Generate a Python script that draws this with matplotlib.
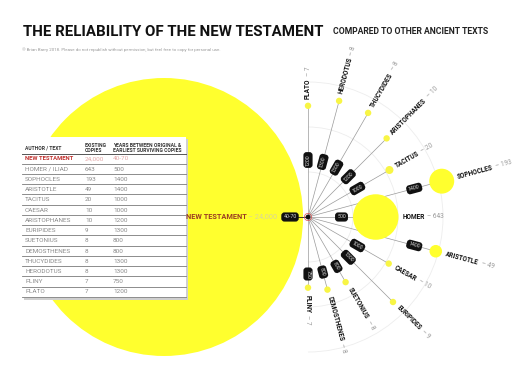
import numpy as np
import matplotlib
matplotlib.use("Agg")
import matplotlib.pyplot as plt
from matplotlib.patches import Circle, Rectangle, Arc
from matplotlib.textpath import TextPath
from matplotlib.font_manager import FontProperties, fontManager

# ---- data ----
authors = ["PLATO", "HERODOTUS", "THUCYDIDES", "ARISTOPHANES", "TACITUS", "SOPHOCLES", "HOMER",
           "ARISTOTLE", "CAESAR", "EURIPIDES", "SUETONIUS", "DEMOSTHENES", "PLINY"]
copies = [7, 8, 8, 10, 20, 193, 643, 49, 10, 9, 8, 8, 7]
years = [1200, 1300, 1300, 1200, 1000, 1400, 500, 1400, 1000, 1300, 800, 800, 750]

nt_name = "NEW TESTAMENT"
nt_copies = 24000
nt_years_label = "40-70"
nt_years_mid = 55

table_names = ["NEW TESTAMENT", "HOMER / ILIAD", "SOPHOCLES", "ARISTOTLE", "TACITUS", "CAESAR",
               "ARISTOPHANES", "EURIPIDES", "SUETONIUS", "DEMOSTHENES", "THUCYDIDES", "HERODOTUS",
               "PLINY", "PLATO"]
table_copies = ["24,000", "643", "193", "49", "20", "10", "10", "9", "8", "8", "8", "8", "7", "7"]
table_years = ["40-70", "500", "1400", "1400", "1000", "1000", "1200", "1300", "800", "800",
               "1300", "1300", "750", "1200"]

# ---- fonts ----
installed = {f.name for f in fontManager.ttflist}
COND = "DejaVu Sans"
for cand in ["Liberation Sans Narrow", "DejaVu Sans Condensed", "Roboto"]:
    if cand in installed:
        COND = cand
        break
plt.rcParams["font.family"] = [COND, "DejaVu Sans"]


def tw(s, size, weight="normal"):
    # text width in pixels (dpi 100)
    tp = TextPath((0, 0), s, size=size, prop=FontProperties(family=COND, weight=weight))
    return tp.get_extents().width * 100 / 72


def fit(s, width, weight="bold"):
    return 10 * width / tw(s, 10, weight)


YELLOW = "#ffff2e"
px_per_year = 0.09
k = 139 / np.sqrt(nt_copies)
C = np.array([308.0, 217.0])

fs_lab = fit("SOPHOCLES", 37)
fs_box = fit("1400", 11, "normal")
fs_row = fit("ARISTOPHANES", 46, "normal")
fs_nt = fit("NEW TESTAMENT", 60)

fig = plt.figure(figsize=(5.26, 3.9), dpi=100)
ax = fig.add_axes([0, 0, 1, 1])
ax.set_xlim(0, 526)
ax.set_ylim(390, 0)
ax.axis("off")

# faint grid arcs
for yr in [500, 1000, 1500]:
    dd = 2 * yr * px_per_year
    ax.add_patch(Arc(C, dd, dd, theta1=-90, theta2=90, color="#ededed", lw=0.6, zorder=0))

# big NT circle
r_nt = k * np.sqrt(nt_copies)
nt_c = C + np.array([-(r_nt + px_per_year * nt_years_mid), 0])
ax.add_patch(Circle(nt_c, r_nt, color=YELLOW, zorder=1, lw=0))

angles = np.linspace(90, -90, len(authors))
radii = np.maximum(k * np.sqrt(np.array(copies)), 3.2)
dists = radii + px_per_year * np.array(years)
units = [np.array([np.cos(np.radians(a)), -np.sin(np.radians(a))]) for a in angles]
centers = [C + d * u for d, u in zip(dists, units)]

for i, name in enumerate(authors):
    a, u, r, d, cen = angles[i], units[i], radii[i], dists[i], centers[i]
    ax.plot([C[0], cen[0]], [C[1], cen[1]], color="#9a9a9a", lw=0.5, zorder=2)
    col = YELLOW if r > 5 else "#f8f545"
    ax.add_patch(Circle(cen, r, color=col, zorder=3, lw=0))

    # name + value label beyond the circle
    p = C + (d + r + 4) * u
    ax.text(p[0], p[1], name, fontsize=fs_lab, fontweight="bold", color="#111111", rotation=a,
            rotation_mode="anchor", ha="left", va="center", zorder=6)
    q = p + (tw(name, fs_lab, "bold") + 2.5) * u
    ax.text(q[0], q[1], "– %d" % copies[i], fontsize=fs_lab, color="#9a9a9a", rotation=a,
            rotation_mode="anchor", ha="left", va="center", zorder=6)

    # years box along the spoke
    t = 57.0
    edge = d - r
    if t + 10 > edge:
        t = (edge + 22) / 2
    else:
        pushed = False
        while any(np.hypot(*(C + t * u - centers[j])) < radii[j] + 10
                  for j in range(len(authors)) if j != i):
            t += 1
            pushed = True
        if pushed:
            t = (t + edge) / 2
    b = C + t * u
    ax.text(b[0], b[1], str(years[i]), fontsize=fs_box, color="#d8d8d8", rotation=a,
            rotation_mode="anchor", ha="center", va="center", zorder=7,
            bbox=dict(boxstyle="round,pad=0.4,rounding_size=0.6", fc="#111111", ec="none"))

# NT label and box
nb = C + np.array([-18, 0])
ax.plot([nb[0], C[0]], [C[1], C[1]], color="#222222", lw=0.6, zorder=2)
ax.text(nb[0], nb[1], nt_years_label, fontsize=fs_box, color="#d8d8d8", ha="center", va="center",
        zorder=7, bbox=dict(boxstyle="round,pad=0.4,rounding_size=0.6", fc="#111111", ec="none"))
val = "– 24,000"
xr = nb[0] - 13
ax.text(xr, nb[1], val, fontsize=fs_nt, color="#d9d59a", ha="right", va="center", zorder=6)
ax.text(xr - tw(val, fs_nt) - 2.5, nb[1], nt_name, fontsize=fs_nt, fontweight="bold",
        color="#9a3b22", ha="right", va="center", zorder=6)

# center marker
ax.add_patch(Circle(C, 3.6, fill=False, ec="#d84a4a", lw=0.5, zorder=8))
ax.add_patch(Circle(C, 1.7, color="#111111", zorder=9))

# ---- table ----
tx0, tx1, ty0, ty1 = 22, 186, 137, 298
ax.add_patch(Rectangle((tx0 + 1.5, ty0 + 1.5), tx1 - tx0, ty1 - ty0, color="#cfcfcf", zorder=4, lw=0))
ax.add_patch(Rectangle((tx0, ty0), tx1 - tx0, ty1 - ty0, color="white", zorder=5, lw=0))
cols = [25, 85, 113]
hy = 148
fs_h = fit("YEARS BETWEEN ORIGINAL &", 68)
ax.text(cols[0], hy, "AUTHOR / TEXT", fontsize=fs_h, fontweight="bold", color="#333333",
        va="center", zorder=6)
ax.text(cols[1], hy, "EXISTING\nCOPIES", fontsize=fs_h, fontweight="bold", color="#333333",
        va="center", linespacing=1.0, zorder=6)
ax.text(cols[2], hy, "YEARS BETWEEN ORIGINAL &\nEARLIEST SURVIVING COPIES", fontsize=fs_h,
        fontweight="bold", color="#333333", va="center", linespacing=1.0, zorder=6)
ax.plot([tx0, tx1], [154, 154], color="#555555", lw=0.7, zorder=6)
for i, nm in enumerate(table_names):
    ry = 159 + i * 10.23
    if i == 0:
        ax.text(cols[0], ry, nm, fontsize=fs_row * 0.92, fontweight="bold", color="#c0302e",
                va="center", zorder=6)
        vc = "#e3a9a9"
    else:
        ax.text(cols[0], ry, nm, fontsize=fs_row, color="#8a8a8a", va="center", zorder=6)
        vc = "#8a8a8a"
    ax.text(cols[1], ry, table_copies[i], fontsize=fs_row, color=vc, va="center", zorder=6)
    ax.text(cols[2], ry, table_years[i], fontsize=fs_row, color=vc, va="center", zorder=6)
    ax.plot([tx0, tx1], [ry + 4.8, ry + 4.8], color="#7a7a7a", lw=0.6, zorder=6)

# ---- titles ----
title = "THE RELIABILITY OF THE NEW TESTAMENT"
ax.text(23, 36.5, title, fontsize=fit(title, 300), fontweight="bold", color="#111111",
        va="baseline", ha="left")
sub = "COMPARED TO OTHER ANCIENT TEXTS"
ax.text(333, 34.3, sub, fontsize=fit(sub, 156), fontweight="bold", color="#222222",
        va="baseline", ha="left")
credit = "© Brian Barry 2018. Please do not republish without permission, but feel free to copy for personal use."
ax.text(22, 49.5, credit, fontsize=fit(credit, 200, "normal"), color="#9a9a9a", va="center", ha="left")

fig.savefig("out.png", dpi=100)
